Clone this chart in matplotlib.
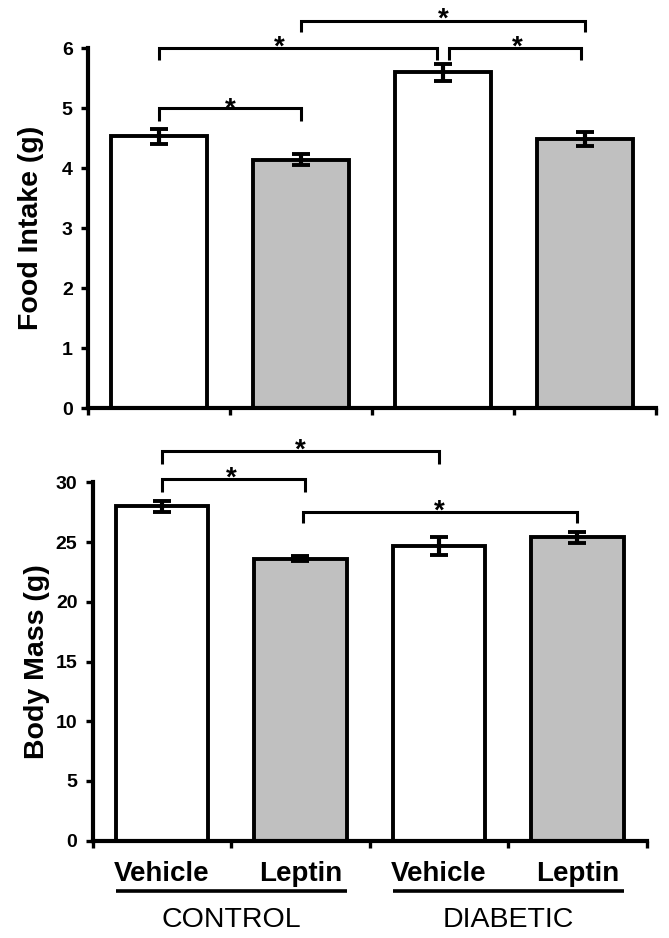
import numpy as np
import matplotlib
matplotlib.use('Agg')
import matplotlib.pyplot as plt
import matplotlib.transforms as mtransforms

plt.rcParams['font.family'] = ['Liberation Sans', 'DejaVu Sans']

# groups and treatments
treatments = ['Vehicle', 'Leptin', 'Vehicle', 'Leptin']
groups = ['CONTROL', 'DIABETIC']
bar_colors = ['white', '#c0c0c0', 'white', '#c0c0c0']

# food intake (g), mean and SEM
food = [4.53, 4.14, 5.60, 4.49]
food_err = [0.12, 0.09, 0.14, 0.12]
# body mass (g), mean and SEM
mass = [28.0, 23.6, 24.7, 25.4]
mass_err = [0.45, 0.2, 0.75, 0.45]

# significance brackets: (left x, right x, bar height, leg bottom, star x, star y)
food_sig = [
    (0.0, 1.0, 5.00, 4.79, 0.5, 5.13),
    (0.0, 1.96, 6.00, 5.81, 0.85, 6.16),
    (2.04, 2.97, 6.00, 5.80, 2.52, 6.16),
    (1.0, 3.0, 6.46, 6.27, 2.0, 6.62),
]
mass_sig = [
    (0.0, 1.03, 30.27, 29.15, 0.5, 31.1),
    (0.0, 2.0, 32.64, 31.5, 1.0, 33.4),
    (1.02, 3.0, 27.5, 26.56, 2.0, 28.3),
]

fig = plt.figure(figsize=(6.69, 9.38), dpi=100)
ax1 = fig.add_axes([0.1315, 0.5650, 0.8490, 0.3835])
ax2 = fig.add_axes([0.1386, 0.1037, 0.8281, 0.3821])

x = np.arange(len(treatments))


def draw_panel(ax, vals, errs, sig, ymax, ystep, ylabel):
    ax.bar(x, vals, width=0.67, color=bar_colors, edgecolor='black',
           linewidth=2.8, zorder=2)
    ax.errorbar(x, vals, yerr=errs, fmt='none', ecolor='black',
                elinewidth=3, capsize=6.5, capthick=2.8, zorder=3)
    ax.set_xlim(-0.5, len(x) - 0.5)
    ax.set_ylim(0, ymax)
    ax.set_yticks(np.arange(0, ymax + 0.01, ystep))
    ax.set_xticks(np.arange(len(x) + 1) - 0.5)
    ax.set_xticklabels([])
    for s in ['top', 'right']:
        ax.spines[s].set_visible(False)
    for s in ['left', 'bottom']:
        ax.spines[s].set_linewidth(3)
    ax.tick_params(axis='both', direction='out', length=5, width=2.4)
    ax.tick_params(axis='y', pad=6, labelsize=14)
    for lab in ax.get_yticklabels():
        lab.set_fontweight('bold')
    ax.set_ylabel(ylabel, fontsize=20.5, fontweight='bold')
    ax.yaxis.set_label_coords(-0.078, 0.5)

    for x0, x1, h, leg, sx, sy in sig:
        ax.plot([x0, x0, x1, x1], [leg, h, h, leg], color='black',
                linewidth=2.2, clip_on=False, solid_joinstyle='miter',
                solid_capstyle='butt')
        ax.annotate('*', xy=(sx, sy), xytext=(0, -11.5),
                    textcoords='offset points', ha='center', va='baseline',
                    fontsize=20, fontweight='bold', annotation_clip=False)


draw_panel(ax1, food, food_err, food_sig, 6, 1, 'Food Intake (g)')
draw_panel(ax2, mass, mass_err, mass_sig, 30, 5, 'Body Mass (g)')

# treatment and group labels under the lower panel
trans = mtransforms.blended_transform_factory(ax2.transData, ax2.transAxes)
for xi, t in zip(x, treatments):
    ax2.text(xi, -0.112, t, transform=trans, ha='center', va='baseline',
             fontsize=20, fontweight='bold')
for gi, g in enumerate(groups):
    a, b = 2 * gi, 2 * gi + 1
    ax2.plot([a - 0.335, b + 0.335], [-0.1395, -0.1395], transform=trans,
             color='black', linewidth=2.6, clip_on=False,
             solid_capstyle='butt')
    ax2.text((a + b) / 2, -0.241, g, transform=trans, ha='center',
             va='baseline', fontsize=20.5)

fig.savefig('out.png', dpi=100)
